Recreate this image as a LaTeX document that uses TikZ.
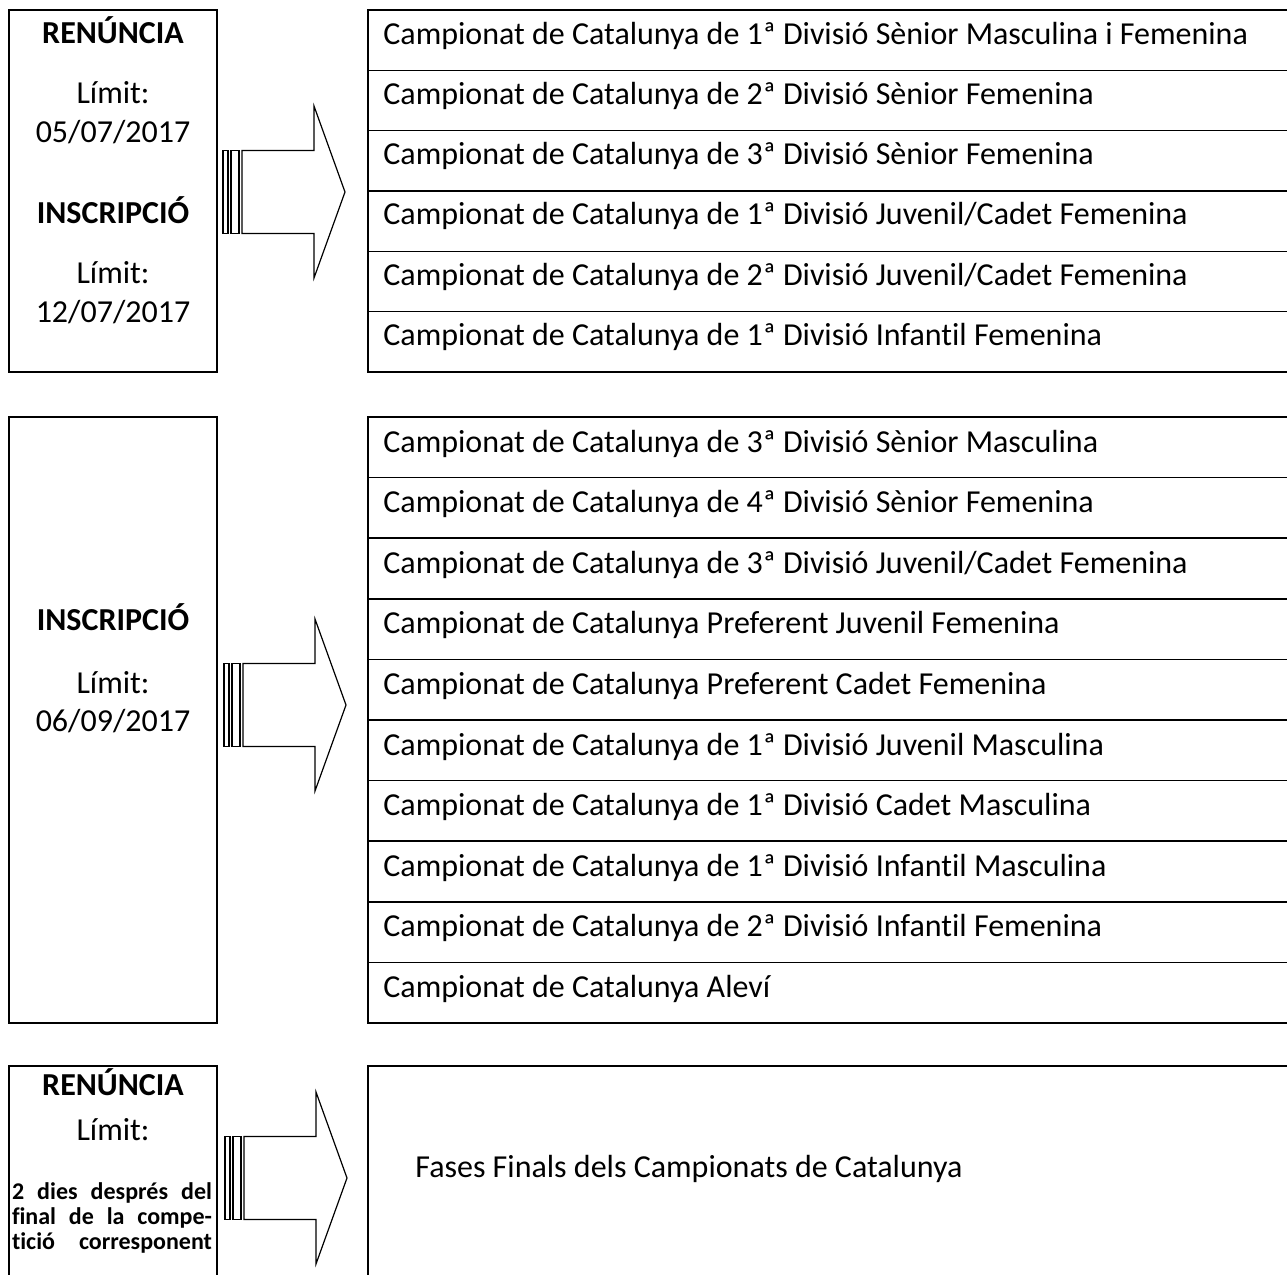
\documentclass[tikz,border=0pt]{standalone}
\usepackage{fontspec}
\setmainfont{Carlito}[Ligatures=NoCommon]
\usetikzlibrary{positioning,calc}
\tikzstyle{frame} = [draw=black, line width=0.75pt]
\tikzstyle{rowline} = [draw=black, line width=0.75pt]
\tikzstyle{bigarrow} = [draw=black, line width=0.6pt, fill=white]
\tikzset{
  box text/.style = {
    anchor=base,
    inner sep=0pt,
    font=\fontsize{16}{19}\selectfont,
    },
  head text/.style = {
    box text,
    font=\fontsize{16}{19}\selectfont\bfseries,
    },
  row text/.style = {
    box text,
    anchor=base west,
    },
  small text/.style = {
    anchor=base,
    inner sep=0pt,
    font=\fontsize{12}{12.5}\selectfont\bfseries,
    },
}
% striped block arrow, tip at (0,0)
\newcommand{\stripedarrow}{%
  \draw[bigarrow] (-122,-41.5) rectangle (-117,41.5);
  \draw[bigarrow] (-114,-41.5) rectangle (-106,41.5);
  \draw[bigarrow] (-103,-41.5) -- (-31,-41.5) -- (-31,-86) -- (0,0)
    -- (-31,86) -- (-31,41.5) -- (-103,41.5) -- cycle;
}

\begin{document}
\begin{tikzpicture}[x=0.5pt,y=-0.5pt]
    \useasboundingbox (0,0) rectangle (1287,1275);

    % top block
    \draw[frame] (9,10) rectangle (217,372);
    \node[head text] (ren1) at (113,43) {RENÚNCIA};
    \node[box text] (lim1) at (113,103) {Límit:};
    \node[box text] (date1) at (113,142) {05/07/2017};
    \node[head text] (ins1) at (113,223) {INSCRIPCIÓ};
    \node[box text] (lim2) at (113,283) {Límit:};
    \node[box text] (date2) at (113,322) {12/07/2017};

    \begin{scope}[shift={(345,192)}]
        \stripedarrow
    \end{scope}

    \draw[frame] (368,10) rectangle (1292,372);
    \foreach \i in {1,...,5}
        \draw[rowline] (368,{10+60.33*\i}) -- (1292,{10+60.33*\i});
    \foreach \txt [count=\i from 0] in {%
        Campionat de Catalunya de 1ª Divisió Sènior Masculina i Femenina,
        Campionat de Catalunya de 2ª Divisió Sènior Femenina,
        Campionat de Catalunya de 3ª Divisió Sènior Femenina,
        Campionat de Catalunya de 1ª Divisió Juvenil/Cadet Femenina,
        Campionat de Catalunya de 2ª Divisió Juvenil/Cadet Femenina,
        Campionat de Catalunya de 1ª Divisió Infantil Femenina}
        \node[row text] (top-\i) at (383,{10+60.33*\i+34}) {\txt};

    % middle block
    \draw[frame] (9,417) rectangle (217,1023);
    \node[head text] (ins2) at (113,630) {INSCRIPCIÓ};
    \node[box text] (lim3) at (113,693) {Límit:};
    \node[box text] (date3) at (113,731) {06/09/2017};

    \begin{scope}[shift={(346,705)}]
        \stripedarrow
    \end{scope}

    \draw[frame] (368,417) rectangle (1292,1023);
    \foreach \i in {1,...,9}
        \draw[rowline] (368,{417+60.6*\i}) -- (1292,{417+60.6*\i});
    \foreach \txt [count=\i from 0] in {%
        Campionat de Catalunya de 3ª Divisió Sènior Masculina,
        Campionat de Catalunya de 4ª Divisió Sènior Femenina,
        Campionat de Catalunya de 3ª Divisió Juvenil/Cadet Femenina,
        Campionat de Catalunya Preferent Juvenil Femenina,
        Campionat de Catalunya Preferent Cadet Femenina,
        Campionat de Catalunya de 1ª Divisió Juvenil Masculina,
        Campionat de Catalunya de 1ª Divisió Cadet Masculina,
        Campionat de Catalunya de 1ª Divisió Infantil Masculina,
        Campionat de Catalunya de 2ª Divisió Infantil Femenina,
        Campionat de Catalunya Aleví}
        \node[row text] (mid-\i) at (383,{417+60.6*\i+35}) {\txt};

    % bottom block
    \draw[frame] (9,1280) -- (9,1066) -- (217,1066) -- (217,1280);
    \node[head text] (ren2) at (113,1095) {RENÚNCIA};
    \node[box text] (lim4) at (113,1140) {Límit:};
    \node[small text] (cond1) at (112,1199) {\makebox[100pt][s]{2 dies després del}};
    \node[small text] (cond2) at (112,1224) {\makebox[100pt][s]{final de la compe-}};
    \node[small text] (cond3) at (112,1249) {\makebox[100pt][s]{tició corresponent}};

    \begin{scope}[shift={(347,1178)}]
        \stripedarrow
    \end{scope}

    \draw[frame] (368,1280) -- (368,1066) -- (1292,1066);
    \node[row text] (fases) at (415,1177) {Fases Finals dels Campionats de Catalunya};
\end{tikzpicture}
\end{document}
